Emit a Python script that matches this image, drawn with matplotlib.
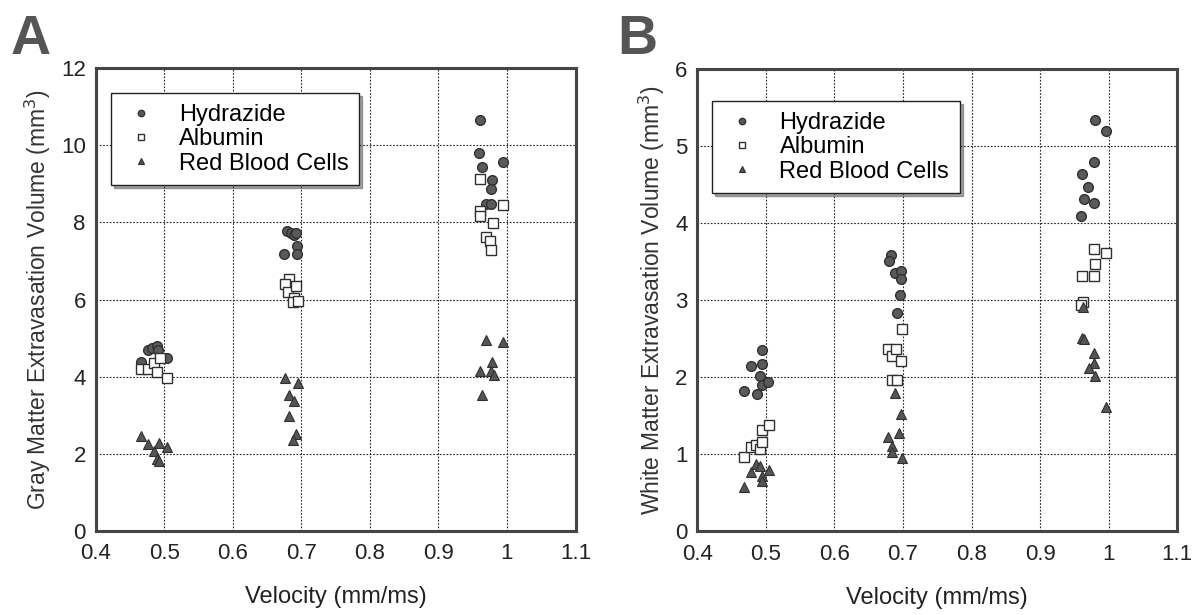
import matplotlib
matplotlib.use("Agg")
import matplotlib.pyplot as plt

plt.rcParams['font.family'] = ['Liberation Sans', 'DejaVu Sans']

# Panel A: gray matter
a_hyd_x = [0.467, 0.476, 0.483, 0.489, 0.491, 0.504,
           0.679, 0.685, 0.690, 0.693, 0.694, 0.675, 0.694,
           0.960, 0.959, 0.963, 0.994, 0.978, 0.977, 0.969, 0.977]
a_hyd_y = [4.39, 4.69, 4.74, 4.79, 4.69, 4.47,
           7.78, 7.73, 7.68, 7.73, 7.39, 7.17, 7.17,
           10.65, 9.80, 9.45, 9.58, 9.10, 8.86, 8.48, 8.48]
a_alb_x = [0.467, 0.476, 0.486, 0.490, 0.494, 0.504,
           0.682, 0.676, 0.681, 0.693, 0.690, 0.688, 0.696,
           0.960, 0.961, 0.960, 0.994, 0.979, 0.969, 0.975, 0.977]
a_alb_y = [4.19, 4.19, 4.34, 4.11, 4.47, 3.97,
           6.54, 6.41, 6.19, 6.34, 6.04, 5.94, 5.97,
           9.13, 8.30, 8.16, 8.46, 7.98, 7.63, 7.53, 7.29]
a_rbc_x = [0.467, 0.477, 0.486, 0.493, 0.504, 0.490, 0.493,
           0.676, 0.682, 0.690, 0.682, 0.696, 0.693, 0.688,
           0.969, 0.994, 0.960, 0.978, 0.977, 0.981, 0.963]
a_rbc_y = [2.45, 2.25, 2.08, 2.27, 2.18, 1.85, 1.80,
           3.96, 3.52, 3.37, 2.97, 3.84, 2.50, 2.35,
           4.94, 4.89, 4.14, 4.39, 4.14, 4.04, 3.52]

# Panel B: white matter
b_hyd_x = [0.468, 0.478, 0.491, 0.487, 0.495, 0.494, 0.495, 0.503,
           0.682, 0.679, 0.688, 0.697, 0.697, 0.695, 0.691,
           0.980, 0.996, 0.979, 0.961, 0.970, 0.964, 0.978, 0.960]
b_hyd_y = [1.82, 2.15, 2.01, 1.78, 2.17, 2.35, 1.90, 1.94,
           3.58, 3.51, 3.35, 3.38, 3.27, 3.06, 2.83,
           5.34, 5.20, 4.79, 4.64, 4.47, 4.31, 4.26, 4.09]
b_alb_x = [0.468, 0.478, 0.486, 0.492, 0.495, 0.495, 0.504,
           0.678, 0.684, 0.690, 0.697, 0.698, 0.684, 0.691,
           0.978, 0.996, 0.980, 0.961, 0.978, 0.963, 0.959]
b_alb_y = [0.96, 1.10, 1.12, 1.07, 1.16, 1.31, 1.38,
           2.37, 2.28, 2.37, 2.21, 2.62, 1.96, 1.96,
           3.66, 3.61, 3.47, 3.31, 3.31, 2.97, 2.94]
b_rbc_x = [0.468, 0.478, 0.486, 0.491, 0.495, 0.495, 0.505,
           0.688, 0.697, 0.694, 0.678, 0.684, 0.684, 0.698,
           0.962, 0.961, 0.964, 0.978, 0.978, 0.971, 0.980, 0.996]
b_rbc_y = [0.57, 0.77, 0.88, 0.85, 0.72, 0.65, 0.80,
           1.80, 1.52, 1.27, 1.22, 1.11, 1.03, 0.95,
           2.91, 2.51, 2.49, 2.32, 2.19, 2.12, 2.02, 1.61]

xticks = [0.4, 0.5, 0.6, 0.7, 0.8, 0.9, 1.0, 1.1]
xticklabels = ['0.4', '0.5', '0.6', '0.7', '0.8', '0.9', '1', '1.1']

fig = plt.figure(figsize=(11.94, 6.15), dpi=100)
axA = fig.add_axes([0.080, 0.137, 0.402, 0.752])
axB = fig.add_axes([0.584, 0.136, 0.402, 0.752])


def panel(ax, hx, hy, ax_, ay, rx, ry, ymax, ylabel, legpos):
    ax.plot(hx, hy, 'o', ms=7, mfc='#5a5a5a', mec='#303030', mew=1.0,
            label='Hydrazide', zorder=3)
    ax.plot(ax_, ay, 's', ms=7, mfc='white', mec='#303030', mew=1.0,
            label='Albumin', zorder=3)
    ax.plot(rx, ry, '^', ms=7, mfc='#555555', mec='#303030', mew=0.8,
            label='Red Blood Cells', zorder=3)
    ax.set_xlim(0.4, 1.1)
    ax.set_ylim(0, ymax)
    ax.set_xticks(xticks)
    ax.set_xticklabels(xticklabels)
    ax.grid(True, color='#222222', linestyle=(0, (1.5, 1.5)), linewidth=0.8)
    ax.set_axisbelow(True)
    ax.tick_params(length=0, labelsize=16, colors='#222222')
    ax.tick_params(axis='x', pad=9)
    ax.tick_params(axis='y', pad=7)
    for s in ax.spines.values():
        s.set_linewidth(2.2)
        s.set_color('#454545')
    ax.set_xlabel('Velocity (mm/ms)', fontsize=17, labelpad=16, color='#222222')
    ax.set_ylabel(ylabel, fontsize=16.5, color='#333333', labelpad=6)
    leg = ax.legend(loc='upper left', bbox_to_anchor=legpos, fontsize=17,
                    markerscale=0.65, handlelength=1.6, handletextpad=0.8,
                    borderpad=0.45, borderaxespad=0, labelspacing=0.1,
                    fancybox=False, shadow=True, framealpha=1,
                    edgecolor='#222222')
    leg.get_frame().set_linewidth(1.0)


panel(axA, a_hyd_x, a_hyd_y, a_alb_x, a_alb_y, a_rbc_x, a_rbc_y, 12,
      'Gray Matter Extravasation Volume (mm$^3$)', (0.033, 0.946))
axA.set_yticks([0, 2, 4, 6, 8, 10, 12])
panel(axB, b_hyd_x, b_hyd_y, b_alb_x, b_alb_y, b_rbc_x, b_rbc_y, 6,
      'White Matter Extravasation Volume (mm$^3$)', (0.031, 0.93))
axB.set_yticks([0, 1, 2, 3, 4, 5, 6])

fig.text(0.009, 0.912, 'A', fontsize=40, fontweight='bold', color='#555555')
fig.text(0.517, 0.912, 'B', fontsize=40, fontweight='bold', color='#555555')

fig.savefig('out.png', dpi=100)
